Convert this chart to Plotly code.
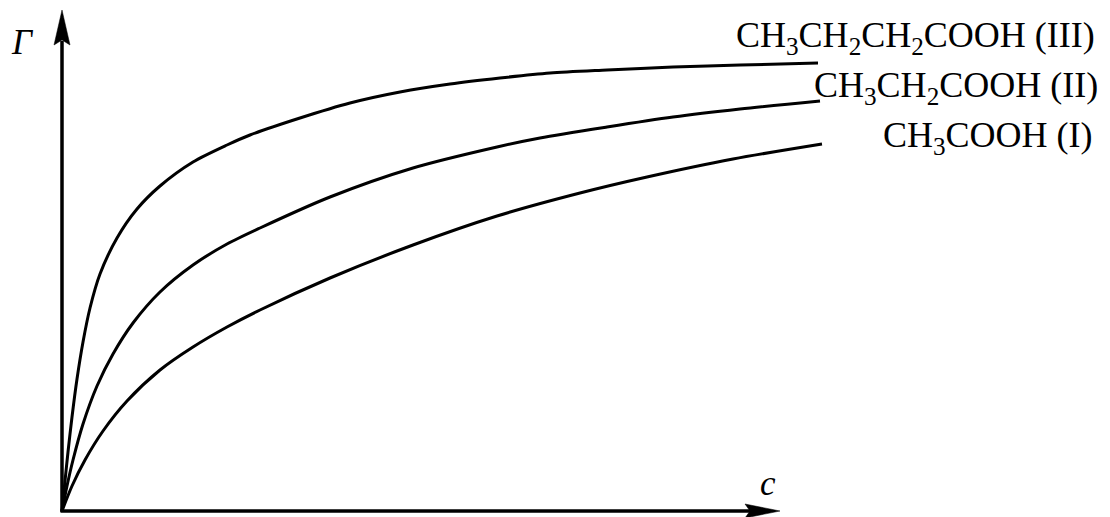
import plotly.graph_objects as go

# Adsorption isotherms Γ(c) for three fatty acids (arbitrary units)
c_III = [0, 3, 6, 10, 15, 21, 28, 38, 55, 75, 98, 131, 165, 188, 238, 288, 338, 388, 438, 488, 545, 611, 678, 756]
g_III = [0, 30, 59, 94, 132, 169, 203, 237, 273, 302, 325, 349, 366, 376, 393, 408, 419, 427, 433, 438, 441, 444, 446, 448]

c_II = [0, 5, 11, 21, 35, 51, 71, 98, 131, 165, 198, 268, 351, 435, 478, 545, 611, 678, 758]
g_II = [0, 25, 51, 87, 125, 157, 188, 219, 246, 267, 283, 314, 343, 364, 373, 384, 394, 402, 410]

c_I = [0, 10, 23, 41, 65, 98, 131, 165, 198, 268, 351, 435, 518, 585, 671, 760]
g_I = [0, 25, 51, 80, 110, 141, 164, 184, 201, 233, 266, 295, 318, 334, 352, 367]

labels = ["CH<sub>3</sub>CH<sub>2</sub>CH<sub>2</sub>COOH (III)",
          "CH<sub>3</sub>CH<sub>2</sub>COOH (II)",
          "CH<sub>3</sub>COOH (I)"]

FONT = "Liberation Serif"
INK = "black"

fig = go.Figure()
for cx, gy in [(c_III, g_III), (c_II, g_II), (c_I, g_I)]:
    fig.add_trace(go.Scatter(x=cx, y=gy, mode="lines",
                             line=dict(color=INK, width=3, shape="spline", smoothing=0.8),
                             hoverinfo="skip", showlegend=False))

# axes with arrowheads
shapes = [
    dict(type="line", x0=0, y0=-1, x1=0, y1=470, line=dict(color=INK, width=3.5)),
    dict(type="line", x0=-1.5, y0=0, x1=690, y1=0, line=dict(color=INK, width=3.5)),
    dict(type="path", path="M 0 501 L -8 466 L 0 471 L 8 466 Z",
         fillcolor=INK, line=dict(color=INK, width=0.5)),
    dict(type="path", path="M 718 0 L 683 7 L 688 0 L 683 -7 Z",
         fillcolor=INK, line=dict(color=INK, width=0.5)),
]

annotations = [
    dict(x=-40, y=469, text="<i>Γ</i>", showarrow=False, xanchor="center", yanchor="middle",
         font=dict(family=FONT, size=35, color=INK)),
    dict(x=706, y=28, text="<i>c</i>", showarrow=False, xanchor="center", yanchor="middle",
         font=dict(family=FONT, size=35, color=INK)),
]
label_pos = [(672, 474), (750, 424), (819, 374)]
for (lx, ly), txt in zip(label_pos, labels):
    annotations.append(dict(x=lx, y=ly, text=txt, showarrow=False, xanchor="left",
                            yanchor="middle", font=dict(family=FONT, size=36, color=INK)))

fig.update_layout(
    width=1110, height=517,
    margin=dict(l=0, r=0, t=0, b=0),
    paper_bgcolor="white", plot_bgcolor="white",
    xaxis=dict(range=[-62, 1048], visible=False, fixedrange=True),
    yaxis=dict(range=[-6, 511], visible=False, fixedrange=True),
    shapes=shapes, annotations=annotations,
)

fig.write_html("out.html")
